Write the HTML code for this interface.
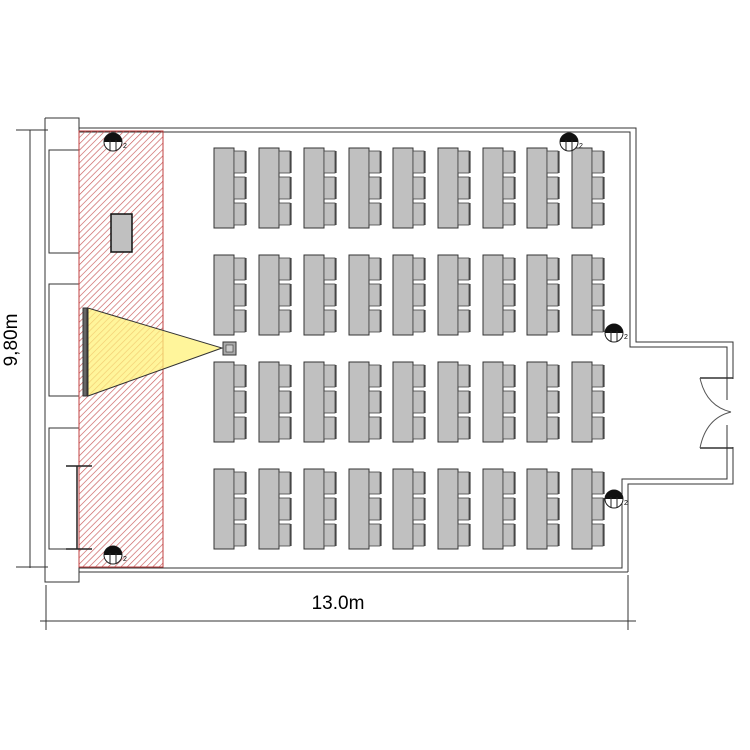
<!DOCTYPE html>
<html><head><meta charset="utf-8"><style>body{margin:0;background:#fff}svg{display:block}</style></head><body>
<svg width="750" height="750" viewBox="0 0 750 750" xmlns="http://www.w3.org/2000/svg">
<defs>
<pattern id="h" patternUnits="userSpaceOnUse" width="4.5" height="4.5" patternTransform="rotate(45)">
<line x1="0" y1="0" x2="0" y2="4.5" stroke="#c85a5a" stroke-width="1.3"/>
</pattern>
<g id="desk">
<rect x="0" y="0" width="20" height="80" fill="#c0c0c0" stroke="#333" stroke-width="1"/>
<rect x="20" y="3" width="11" height="22" fill="#c0c0c0" stroke="#444" stroke-width="0.8"/>
<rect x="20" y="29" width="11" height="22" fill="#c0c0c0" stroke="#444" stroke-width="0.8"/>
<rect x="20" y="55" width="11" height="22" fill="#c0c0c0" stroke="#444" stroke-width="0.8"/>
<line x1="32" y1="3" x2="32" y2="25" stroke="#222"/>
<line x1="32" y1="29" x2="32" y2="51" stroke="#222"/>
<line x1="32" y1="55" x2="32" y2="77" stroke="#222"/>
</g>
<g id="lamp">
<circle cx="0" cy="0" r="9" fill="#fff" stroke="#222"/>
<path d="M-9,0 A9,9 0 0 1 9,0 Z" fill="#111"/>
<line x1="-3" y1="-2" x2="-3" y2="9" stroke="#222"/><line x1="3" y1="-2" x2="3" y2="9" stroke="#222"/>
<text x="10" y="6" font-family="Liberation Sans,sans-serif" font-size="7">2</text>
</g>
</defs>
<line x1="30" y1="130" x2="30" y2="568" stroke="#333"/>
<line x1="16" y1="130" x2="48" y2="130" stroke="#333"/>
<line x1="16" y1="567" x2="48" y2="567" stroke="#333"/>
<line x1="46" y1="585" x2="46" y2="630" stroke="#333"/>
<line x1="628" y1="575" x2="628" y2="630" stroke="#333"/>
<line x1="40" y1="621" x2="636" y2="621" stroke="#333"/>
<text x="338" y="609" font-family="Liberation Sans,sans-serif" font-size="19" text-anchor="middle">13.0m</text>
<text transform="translate(17,340) rotate(-90)" font-family="Liberation Sans,sans-serif" font-size="19" text-anchor="middle">9,80m</text>
<path d="M45,118 H79 V128 H636 V342 H733 V484 H628 V572" fill="none" stroke="#333"/>
<path d="M79,132 H630 V347 H727 V479 H622 V568 H79" fill="none" stroke="#333"/>
<path d="M45,118 V582 H79 V572 H628" fill="none" stroke="#333"/>
<line x1="79" y1="118" x2="79" y2="582" stroke="#333"/>
<rect x="49" y="150" width="30" height="103" fill="#fff" stroke="#333"/>
<rect x="49" y="284" width="30" height="112" fill="#fff" stroke="#333"/>
<rect x="49" y="428" width="30" height="121" fill="#fff" stroke="#333"/>
<rect x="700" y="400" width="34" height="25" fill="#fff"/>
<line x1="727" y1="347" x2="727" y2="378" stroke="#333"/>
<line x1="727" y1="448" x2="727" y2="479" stroke="#333"/>
<line x1="700" y1="378" x2="733" y2="378" stroke="#333" stroke-width="1.5"/>
<line x1="700" y1="448" x2="733" y2="448" stroke="#333" stroke-width="1.5"/>
<rect x="728" y="379" width="10" height="68" fill="#fff"/>
<path d="M700,378 Q706,406 731,412" fill="none" stroke="#555"/>
<path d="M700,448 Q706,418 731,412" fill="none" stroke="#555"/>
<rect x="79" y="131" width="84" height="436" fill="url(#h)" stroke="#c04040" stroke-width="1"/>
<polygon points="88,308 88,396 222,348" fill="#fff27a" fill-opacity="0.75" stroke="#333"/>
<rect x="83" y="308" width="4" height="88" fill="#666" stroke="#333"/>
<rect x="223" y="342" width="13" height="13" fill="#aaa" stroke="#333"/>
<rect x="226" y="345" width="7" height="7" fill="#ccc" stroke="#333" stroke-width="0.6"/>
<rect x="111" y="214" width="21" height="38" fill="#c0c0c0" stroke="#111" stroke-width="1.5"/>
<line x1="77" y1="466" x2="77" y2="549" stroke="#222" stroke-width="1.5"/>
<line x1="66" y1="466" x2="92" y2="466" stroke="#222" stroke-width="1.5"/>
<line x1="66" y1="549" x2="92" y2="549" stroke="#222" stroke-width="1.5"/>
<g>
<use href="#desk" x="214" y="148"/><use href="#desk" x="259" y="148"/><use href="#desk" x="304" y="148"/><use href="#desk" x="349" y="148"/><use href="#desk" x="393" y="148"/><use href="#desk" x="438" y="148"/><use href="#desk" x="483" y="148"/><use href="#desk" x="527" y="148"/><use href="#desk" x="572" y="148"/>
<use href="#desk" x="214" y="255"/><use href="#desk" x="259" y="255"/><use href="#desk" x="304" y="255"/><use href="#desk" x="349" y="255"/><use href="#desk" x="393" y="255"/><use href="#desk" x="438" y="255"/><use href="#desk" x="483" y="255"/><use href="#desk" x="527" y="255"/><use href="#desk" x="572" y="255"/>
<use href="#desk" x="214" y="362"/><use href="#desk" x="259" y="362"/><use href="#desk" x="304" y="362"/><use href="#desk" x="349" y="362"/><use href="#desk" x="393" y="362"/><use href="#desk" x="438" y="362"/><use href="#desk" x="483" y="362"/><use href="#desk" x="527" y="362"/><use href="#desk" x="572" y="362"/>
<use href="#desk" x="214" y="469"/><use href="#desk" x="259" y="469"/><use href="#desk" x="304" y="469"/><use href="#desk" x="349" y="469"/><use href="#desk" x="393" y="469"/><use href="#desk" x="438" y="469"/><use href="#desk" x="483" y="469"/><use href="#desk" x="527" y="469"/><use href="#desk" x="572" y="469"/>
</g>
<use href="#lamp" x="113" y="142"/>
<use href="#lamp" x="569" y="142"/>
<use href="#lamp" x="614" y="333"/>
<use href="#lamp" x="614" y="499"/>
<use href="#lamp" x="113" y="555"/>
</svg>
</body></html>
